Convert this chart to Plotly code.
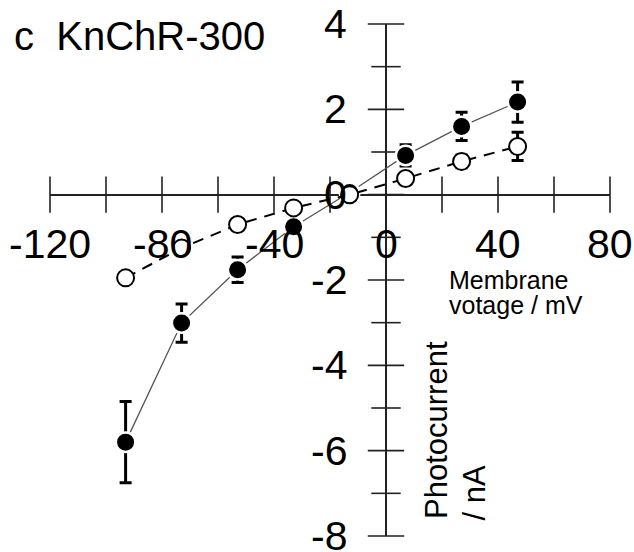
import plotly.graph_objects as go

# ---- data ----
voltage = [-93, -73, -53, -33, -13, 7, 27, 47]
filled_current = [-5.80, -3.01, -1.76, -0.75, 0.05, 0.92, 1.60, 2.17]
filled_err = [0.95, 0.45, 0.30, 0.15, 0.10, 0.25, 0.33, 0.47]
open_current = [-1.95, -1.25, -0.70, -0.31, 0.00, 0.38, 0.78, 1.13]
open_err = [0.10, 0.10, 0.10, 0.08, 0.05, 0.10, 0.15, 0.33]

x_ticks = [-120, -100, -80, -60, -40, -20, 0, 20, 40, 60, 80]
x_labels = [-120, -80, -40, 0, 40, 80]
y_major = [-8, -6, -4, -2, 0, 2, 4]
y_minor = [-7, -5, -3, -1, 1, 3]
y_labels = [-8, -6, -4, -2, 0, 2, 4]

title_text = "c  KnChR-300"
xlab1 = "Membrane"
xlab2 = "votage / mV"
ylab1 = "Photocurrent"
ylab2 = "/ nA"

# ---- layout geometry ----
W, H = 634, 552
L, R, T, B = 50, 24, 24, 16
PW, PH = W - L - R, H - T - B
FONT = "Liberation Sans, Arial, sans-serif"
AX = "#222222"


def px_x(p):
    return (p - L) / PW


def px_y(p):
    return 1 - (p - T) / PH


fig = go.Figure()

# tick marks crossing the axes
fig.add_trace(go.Scatter(
    x=x_ticks, y=[0] * len(x_ticks), mode="markers", cliponaxis=False,
    marker=dict(symbol="line-ns", size=26, line=dict(width=1.6, color=AX)),
    hoverinfo="skip", showlegend=False))
fig.add_trace(go.Scatter(
    x=[0] * len(y_major), y=y_major, mode="markers", cliponaxis=False,
    marker=dict(symbol="line-ew", size=26, line=dict(width=1.6, color=AX)),
    hoverinfo="skip", showlegend=False))
fig.add_trace(go.Scatter(
    x=[0] * len(y_minor), y=y_minor, mode="markers", cliponaxis=False,
    marker=dict(symbol="line-ew", size=21, line=dict(width=1.6, color=AX)),
    hoverinfo="skip", showlegend=False))

# filled series
fig.add_trace(go.Scatter(
    x=voltage, y=filled_current, mode="lines+markers", cliponaxis=False,
    line=dict(color="#555555", width=1.3),
    marker=dict(symbol="circle", size=19.5, color="black",
                line=dict(color="white", width=2.5)),
    error_y=dict(type="data", array=filled_err, visible=True,
                 color="black", thickness=3, width=6),
    showlegend=False))

# open series
fig.add_trace(go.Scatter(
    x=voltage, y=open_current, mode="lines+markers", cliponaxis=False,
    line=dict(color="black", width=2, dash="11px,8px"),
    marker=dict(symbol="circle", size=17, color="white",
                line=dict(color="black", width=2)),
    error_y=dict(type="data", array=open_err, visible=True,
                 color="black", thickness=3, width=6),
    showlegend=False))

annotations = []
for v in x_labels:
    annotations.append(dict(x=v, y=0, xref="x", yref="y", text=str(v),
                            showarrow=False, xanchor="center", yanchor="middle",
                            yshift=-49, font=dict(family=FONT, size=41, color="black")))
for v in y_labels:
    annotations.append(dict(x=0, y=v, xref="x", yref="y", text=str(v),
                            showarrow=False, xanchor="right", yanchor="middle",
                            xshift=-37, font=dict(family=FONT, size=41, color="black")))

annotations.append(dict(x=px_x(12), y=px_y(36), xref="paper", yref="paper",
                        text=title_text, showarrow=False, xanchor="left",
                        yanchor="middle", font=dict(family=FONT, size=40, color="black")))
annotations.append(dict(x=px_x(447), y=px_y(280), xref="paper", yref="paper",
                        text=xlab1, showarrow=False, xanchor="left",
                        yanchor="middle", font=dict(family=FONT, size=25, color="black")))
annotations.append(dict(x=px_x(447), y=px_y(305), xref="paper", yref="paper",
                        text=xlab2, showarrow=False, xanchor="left",
                        yanchor="middle", font=dict(family=FONT, size=25, color="black")))
annotations.append(dict(x=px_x(436), y=px_y(521), xref="paper", yref="paper",
                        text=ylab1, showarrow=False, xanchor="center", textangle=-90,
                        yanchor="bottom", font=dict(family=FONT, size=31, color="black")))
annotations.append(dict(x=px_x(474), y=px_y(523), xref="paper", yref="paper",
                        text=ylab2, showarrow=False, xanchor="center", textangle=-90,
                        yanchor="bottom", font=dict(family=FONT, size=31, color="black")))

fig.update_layout(
    width=W, height=H,
    margin=dict(l=L, r=R, t=T, b=B, pad=0),
    paper_bgcolor="white", plot_bgcolor="white",
    xaxis=dict(range=[-120, 80], showgrid=False, showticklabels=False, ticks="",
               zeroline=True, zerolinecolor=AX, zerolinewidth=1.8, showline=False,
               fixedrange=True),
    yaxis=dict(range=[-8, 4], showgrid=False, showticklabels=False, ticks="",
               zeroline=True, zerolinecolor=AX, zerolinewidth=1.8, showline=False,
               fixedrange=True),
    annotations=annotations,
    showlegend=False,
)

fig.write_html("out.html", config={"displayModeBar": False},
               post_script="document.body.style.margin='0';document.body.style.overflow='hidden';")
